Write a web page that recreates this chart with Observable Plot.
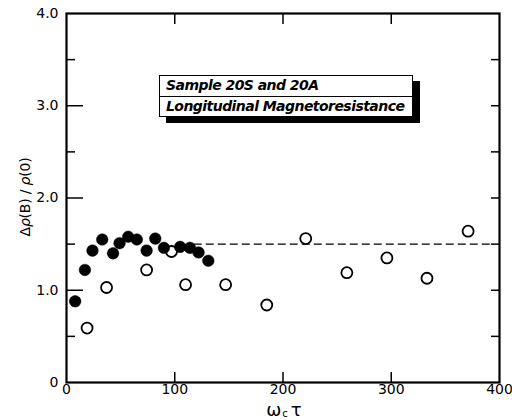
<!DOCTYPE html>
<html>
<head>
<meta charset="utf-8">
<script src="https://cdn.jsdelivr.net/npm/d3@7"></script>
<script src="https://cdn.jsdelivr.net/npm/@observablehq/plot@0.6"></script>
<style>
  html, body { margin: 0; padding: 0; background: #fff; }
  #wrap { position: relative; width: 512px; height: 420px; font-family: "DejaVu Sans", sans-serif; color: #000; }
  #box { position: absolute; left: 159px; top: 75px; width: 254px; height: 42px; box-sizing: border-box;
         border: 1.5px solid #000; background: #fff; box-shadow: 7px 6px 0 #000;
         font: italic 600 14px "DejaVu Sans", sans-serif; letter-spacing: -0.55px; }
  #box .row { height: 19.5px; line-height: 19px; padding-left: 6px; white-space: nowrap; }
  #box .row:first-child { border-bottom: 1.5px solid #000; }
  #ylab { position: absolute; left: 25px; top: 197px; transform: translate(-50%, -50%) rotate(-90deg);
          white-space: nowrap; font: 14px "DejaVu Sans", sans-serif; letter-spacing: -0.2px; }
  #xlab { position: absolute; left: 284px; top: 399px; transform: translateX(-50%); line-height: 15px; height: 17px;
          white-space: nowrap; font: 18px "DejaVu Sans", sans-serif; }
  #xlab sub { font-size: 10px; line-height: 0; vertical-align: -1px; margin: 0 3px 0 1px; }
</style>
</head>
<body>
<div id="wrap"></div>
<script>
// Filled circles (sample 20S)
const filledX = [8, 17, 24, 33, 43, 49, 57, 65, 74, 82, 90, 105, 114, 122, 131];
const filledY = [0.88, 1.22, 1.43, 1.55, 1.40, 1.51, 1.58, 1.55, 1.43, 1.56, 1.46, 1.47, 1.46, 1.41, 1.32];
// Open circles (sample 20A)
const openX = [19, 37, 74, 97, 110, 147, 185, 221, 259, 296, 333, 371];
const openY = [0.59, 1.03, 1.22, 1.42, 1.06, 1.06, 0.84, 1.56, 1.19, 1.35, 1.13, 1.64];
// Dashed reference level
const dashLevel = [1.5];
const dashFrom = 118, dashTo = 393;
// Ticks
const xTickLabels = [0, 100, 200, 300, 400];
const xInnerTicks = [100, 200, 300];
const yTickLabels = [0, 1, 2, 3, 4];
const yMajorTicks = [1, 2, 3];
const yMinorTicks = [0.5, 1.5, 2.5, 3.5];
const yRightTicks = [0.5, 1, 1.5, 2, 2.5, 3, 3.5];
// Texts
const boxLines = ["Sample 20S and 20A", "Longitudinal Magnetoresistance"];

const W = 512, H = 420, mL = 66, mR = 13, mT = 13, mB = 38;
const iw = W - mL - mR, ih = H - mT - mB;

const filled = filledX.map((x, i) => ({x, y: filledY[i]}));
const open = openX.map((x, i) => ({x, y: openY[i]}));

const chart = Plot.plot({
  width: W, height: H,
  marginLeft: mL, marginRight: mR, marginTop: mT, marginBottom: mB,
  style: {fontFamily: "DejaVu Sans, sans-serif", background: "white", color: "black"},
  x: {domain: [0, 400]},
  y: {domain: [0, 4]},
  marks: [
    Plot.axisX({ticks: xTickLabels, tickSize: 0, tickPadding: 2, fontSize: 14, label: null, tickFormat: d => String(d)}),
    Plot.axisY({ticks: yTickLabels, tickSize: 0, tickPadding: 8, fontSize: 14, label: null, tickFormat: d => d === 0 ? "0" : d.toFixed(1)}),
    Plot.ruleY(yMajorTicks, {y: d => d, insetRight: iw - 17, strokeWidth: 1.5}),
    Plot.ruleY(yMinorTicks, {y: d => d, insetRight: iw - 9, strokeWidth: 1.5}),
    Plot.ruleY(yRightTicks, {y: d => d, insetLeft: iw - 8, strokeWidth: 1.5}),
    Plot.ruleX(xInnerTicks, {x: d => d, insetBottom: ih - 11, strokeWidth: 1.5}),
    Plot.ruleX(xInnerTicks, {x: d => d, insetTop: ih - 10, strokeWidth: 1.5}),
    Plot.ruleY(dashLevel, {y: d => d, x1: dashFrom, x2: dashTo, strokeDasharray: "8,4", strokeWidth: 1.3}),
    Plot.dot(open, {x: "x", y: "y", r: 5.5, stroke: "black", strokeWidth: 1.8, fill: "white"}),
    Plot.dot(filled, {x: "x", y: "y", r: 5.8, fill: "black", stroke: "black", strokeWidth: 0.5}),
    Plot.frame({strokeWidth: 2.2})
  ]
});

const wrap = document.getElementById("wrap");
wrap.appendChild(chart);

const box = document.createElement("div");
box.id = "box";
boxLines.forEach(t => { const r = document.createElement("div"); r.className = "row"; r.textContent = t; box.appendChild(r); });
wrap.appendChild(box);

const ylab = document.createElement("div");
ylab.id = "ylab";
ylab.innerHTML = "Δ<i>ρ</i>(B) / <i>ρ</i>(0)";
wrap.appendChild(ylab);

const xlab = document.createElement("div");
xlab.id = "xlab";
xlab.innerHTML = "ω<sub>c</sub>τ";
wrap.appendChild(xlab);
</script>
</body>
</html>
